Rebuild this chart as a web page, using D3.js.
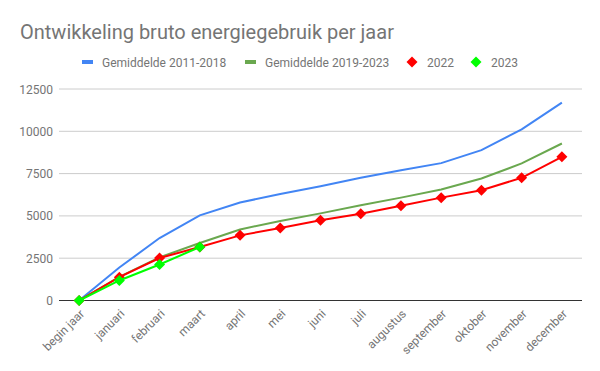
<!DOCTYPE html>
<html><head><meta charset="utf-8">
<script src="https://cdn.jsdelivr.net/npm/d3@7"></script>
<style>body{margin:0;background:#fff}text{font-family:Roboto,sans-serif}</style>
</head><body><svg id="c" width="600" height="371"></svg>
<script>
const categories = ["begin jaar","januari","februari","maart","april","mei","juni","juli","augustus","september","oktober","november","december"];
const gem2011 = [0,1950,3690,5035,5790,6300,6750,7250,7700,8120,8890,10110,11690];
const gem2019 = [0,1400,2550,3400,4200,4700,5150,5630,6080,6560,7210,8100,9280];
const y2022 = [0,1380,2510,3160,3850,4290,4740,5130,5600,6080,6520,7250,8490];
const y2023 = [0,1185,2130,3160];
const yTicks = [0,2500,5000,7500,10000,12500];

const svg = d3.select("#c");
const L=59,R=582,T=89,B=300.5;
const x = d3.scaleBand().domain(categories).range([L,R]);
const y = d3.scaleLinear().domain([0,12500]).range([B,T]);
const cx = d => x(d)+x.bandwidth()/2;

svg.append("text").attr("x",20).attr("y",39).attr("font-size",20).attr("fill","#757575").text("Ontwikkeling bruto energiegebruik per jaar");

const g = svg.append("g");
yTicks.forEach(t=>{
  g.append("line").attr("x1",L).attr("x2",R).attr("y1",y(t)).attr("y2",y(t))
   .attr("stroke",t===0?"#333":"#ccc").attr("stroke-width",1);
  g.append("text").attr("x",53).attr("y",y(t)+4.5).attr("text-anchor","end").attr("font-size",12).attr("fill","#757575").text(t);
});
categories.forEach(c=>{
  g.append("text").attr("transform",`translate(${cx(c)+6},${B+14}) rotate(-45)`).attr("text-anchor","end")
   .attr("font-size",12).attr("fill","#757575").text(c);
});

const line = d3.line().x((d,i)=>cx(categories[i])).y(d=>y(d));
function series(data,color,markers){
  svg.append("path").datum(data).attr("d",line).attr("fill","none").attr("stroke",color).attr("stroke-width",2);
  if(markers){
    const s=5.5;
    data.forEach((d,i)=>{
      const px=cx(categories[i]),py=y(d);
      svg.append("path").attr("d",`M${px},${py-s}L${px+s},${py}L${px},${py+s}L${px-s},${py}Z`).attr("fill",color);
    });
  }
}
series(gem2011,"#4285f4",false);
series(gem2019,"#6aa84f",false);
series(y2022,"#ff0000",true);
series(y2023,"#00ff00",true);

// legend
const leg = [
  {label:"Gemiddelde 2011-2018",color:"#4285f4",type:"line",x:82},
  {label:"Gemiddelde 2019-2023",color:"#6aa84f",type:"line",x:245},
  {label:"2022",color:"#ff0000",type:"dia",x:412},
  {label:"2023",color:"#00ff00",type:"dia",x:476}
];
const ly=62;
leg.forEach(l=>{
  if(l.type==="line"){
    svg.append("rect").attr("x",l.x).attr("y",ly-2).attr("width",11).attr("height",4).attr("fill",l.color);
    svg.append("text").attr("x",l.x+20).attr("y",ly+4.5).attr("font-size",12).attr("fill","#757575").text(l.label);
  } else {
    const px=l.x,s=5.5;
    svg.append("path").attr("d",`M${px},${ly-s}L${px+s},${ly}L${px},${ly+s}L${px-s},${ly}Z`).attr("fill",l.color);
    svg.append("text").attr("x",l.x+15).attr("y",ly+4.5).attr("font-size",12).attr("fill","#757575").text(l.label);
  }
});
</script></body></html>
